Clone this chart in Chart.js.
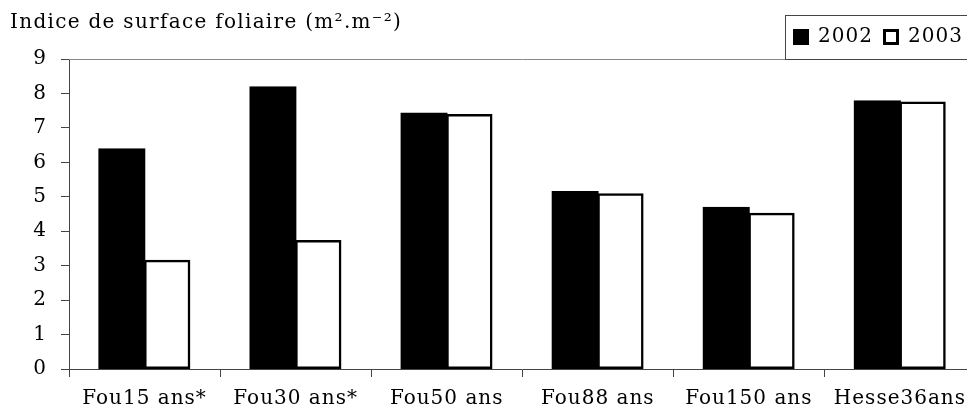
<!DOCTYPE html>
<html>
<head>
<meta charset="utf-8">
<script src="https://cdn.jsdelivr.net/npm/chart.js@4/dist/chart.umd.min.js"></script>
<style>
    html, body { margin: 0; padding: 0; background: #fff; overflow: hidden; }
    #wrap { width: 976px; height: 419px; }
</style>
</head>
<body>
<div id="wrap"><canvas id="grafica" width="976" height="419"></canvas></div>
<script>
var categorias = ["Fou15 ans*", "Fou30 ans*", "Fou50 ans", "Fou88 ans", "Fou150 ans", "Hesse36ans"];
var valores2002 = [6.38, 8.18, 7.42, 5.14, 4.68, 7.77];
var valores2003 = [3.16, 3.73, 7.39, 5.09, 4.52, 7.75];
var ticksY = [0, 1, 2, 3, 4, 5, 6, 7, 8, 9];
var titulo = "Indice de surface foliaire (m\u00B2.m\u207B\u00B2)";

var fuente = "'DejaVu Serif', serif";
var espaciado = "1px";

// espaciado de letras (la fuente original es mas ancha)
var espacio = {
    id: "espacio",
    beforeUpdate: function(chart) { chart.ctx.letterSpacing = espaciado; },
    beforeDraw: function(chart) { chart.ctx.letterSpacing = espaciado; }
};

// titulo, leyenda con caja y linea superior
var extras = {
    id: "extras",
    afterDatasetsDraw: function(chart) {
        var a = chart.chartArea;
        var ctx = chart.ctx;
        ctx.save();
        ctx.strokeStyle = "#888";
        ctx.lineWidth = 1;
        ctx.beginPath();
        ctx.moveTo(a.left, a.top + 0.5);
        ctx.lineTo(chart.width, a.top + 0.5);
        ctx.stroke();
        ctx.restore();
    },
    afterDraw: function(chart) {
        var ctx = chart.ctx;
        ctx.save();
        ctx.letterSpacing = "1.3px";
        ctx.fillStyle = "#000";
        ctx.font = "20px " + fuente;
        ctx.textBaseline = "alphabetic";
        ctx.fillText(titulo, 10, 28);

        // caja de la leyenda
        var top = 15, bottom = chart.chartArea.top;
        ctx.fillStyle = "#fff";
        ctx.fillRect(785, top, chart.width - 785, bottom - top);
        ctx.strokeStyle = "#444";
        ctx.lineWidth = 1;
        ctx.strokeRect(785.5, top + 0.5, chart.width - 785, bottom - top);

        ctx.letterSpacing = espaciado;
        var x = 793;
        chart.data.datasets.forEach(function(d) {
            ctx.fillStyle = d.backgroundColor;
            ctx.fillRect(x, 29, 16, 16);
            ctx.strokeStyle = "#000";
            ctx.lineWidth = 3;
            ctx.strokeRect(x + 1.5, 30.5, 13, 13);
            ctx.fillStyle = "#000";
            ctx.textBaseline = "middle";
            ctx.fillText(d.label, x + 25, 37);
            x += 90;
        });
        ctx.restore();
    }
};

var gra = document.getElementById("grafica").getContext("2d");
var chart = new Chart(gra, {
    type: "bar",
    data: {
        labels: categorias,
        datasets: [
            {
                label: "2002",
                data: valores2002,
                backgroundColor: "#000",
                borderColor: "#000",
                borderWidth: 2,
                borderSkipped: false,
                inflateAmount: 1,
                categoryPercentage: 0.6,
                barPercentage: 1.0
            },
            {
                label: "2003",
                data: valores2003,
                backgroundColor: "#fff",
                borderColor: "#000",
                borderWidth: 2.5,
                borderSkipped: false,
                inflateAmount: 0.5,
                categoryPercentage: 0.6,
                barPercentage: 1.0
            }
        ]
    },
    options: {
        responsive: false,
        animation: false,
        layout: { padding: { left: 0, right: 0, top: 59, bottom: 0 } },
        plugins: {
            title: { display: false },
            tooltip: { enabled: false },
            legend: { display: false }
        },
        scales: {
            x: {
                afterFit: function(axis) { axis.height = 50; },
                grid: {
                    display: true,
                    drawOnChartArea: false,
                    drawTicks: true,
                    tickLength: 8,
                    color: "#444",
                    offset: true
                },
                border: { display: true, color: "#444", width: 1 },
                ticks: {
                    color: "#000",
                    font: { family: fuente, size: 20 },
                    padding: 10,
                    maxRotation: 0,
                    autoSkip: false
                }
            },
            y: {
                min: 0,
                max: 9,
                afterBuildTicks: function(axis) {
                    axis.ticks = ticksY.map(function(v) { return { value: v }; });
                },
                afterFit: function(axis) { axis.width = 69; },
                grid: {
                    display: true,
                    drawOnChartArea: false,
                    drawTicks: true,
                    tickLength: 8,
                    color: "#444"
                },
                border: { display: true, color: "#444", width: 1 },
                ticks: {
                    color: "#000",
                    font: { family: fuente, size: 20 },
                    padding: 14
                }
            }
        }
    },
    plugins: [espacio, extras]
});
</script>
</body>
</html>
